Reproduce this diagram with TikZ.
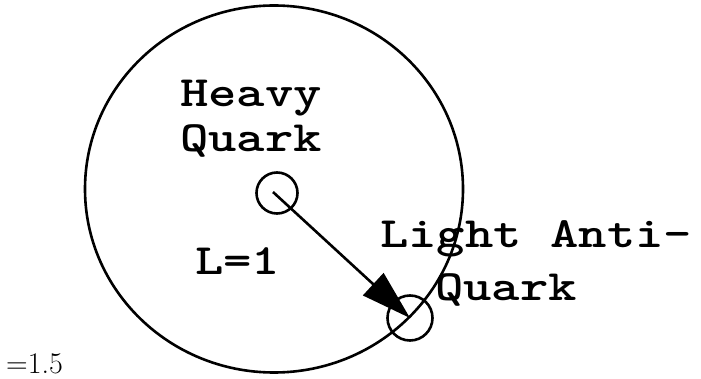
\documentclass[tikz,border=0pt]{standalone}
\usepackage{graphicx}
\usepackage{fontspec}
\usetikzlibrary{arrows.meta,shapes.geometric}
\newcommand{\tw}[1]{\scalebox{1}[0.8]{#1}}
\tikzset{
  ring/.style={draw, line width=2.6pt, inner sep=0pt, outer sep=0pt},
  particle/.style={circle, ring},
  lbl/.style={anchor=base west, inner sep=0pt, font=\ttfamily\bfseries\fontsize{54}{54}\selectfont},
  vec/.style={line width=2.6pt, -{Triangle[length=50pt,width=30pt]}}
}
\begin{document}
\begin{tikzpicture}[x=1pt,y=-1pt]
\fill[white] (0,0) rectangle (701,379);
\useasboundingbox (0,0) rectangle (701,379);
\node[ellipse, ring, minimum width=378pt, minimum height=367pt] (orbit) at (274,189) {};
\node[particle, minimum size=41pt] (hq) at (277,193) {};
\node[particle, minimum size=45pt] (lq) at (410,318) {};
\coordinate (start) at (273,192);
\draw[vec] (start) -- (lq.center);
\node[lbl] (heavy) at (180,107) {\tw{Heavy}};
\node[lbl] (quark1) at (180,152) {\tw{Quark}};
\node[lbl] (light) at (380,248) {\tw{Light Anti-}};
\node[lbl] (quark2) at (435,300) {\tw{Quark}};
\node[lbl] (ell) at (195,275) {\tw{L=1}};
\node[anchor=base west, inner sep=0pt, font=\fontsize{30}{30}\selectfont] (ratio) at (6,373) {=1.5};
\end{tikzpicture}
\end{document}
